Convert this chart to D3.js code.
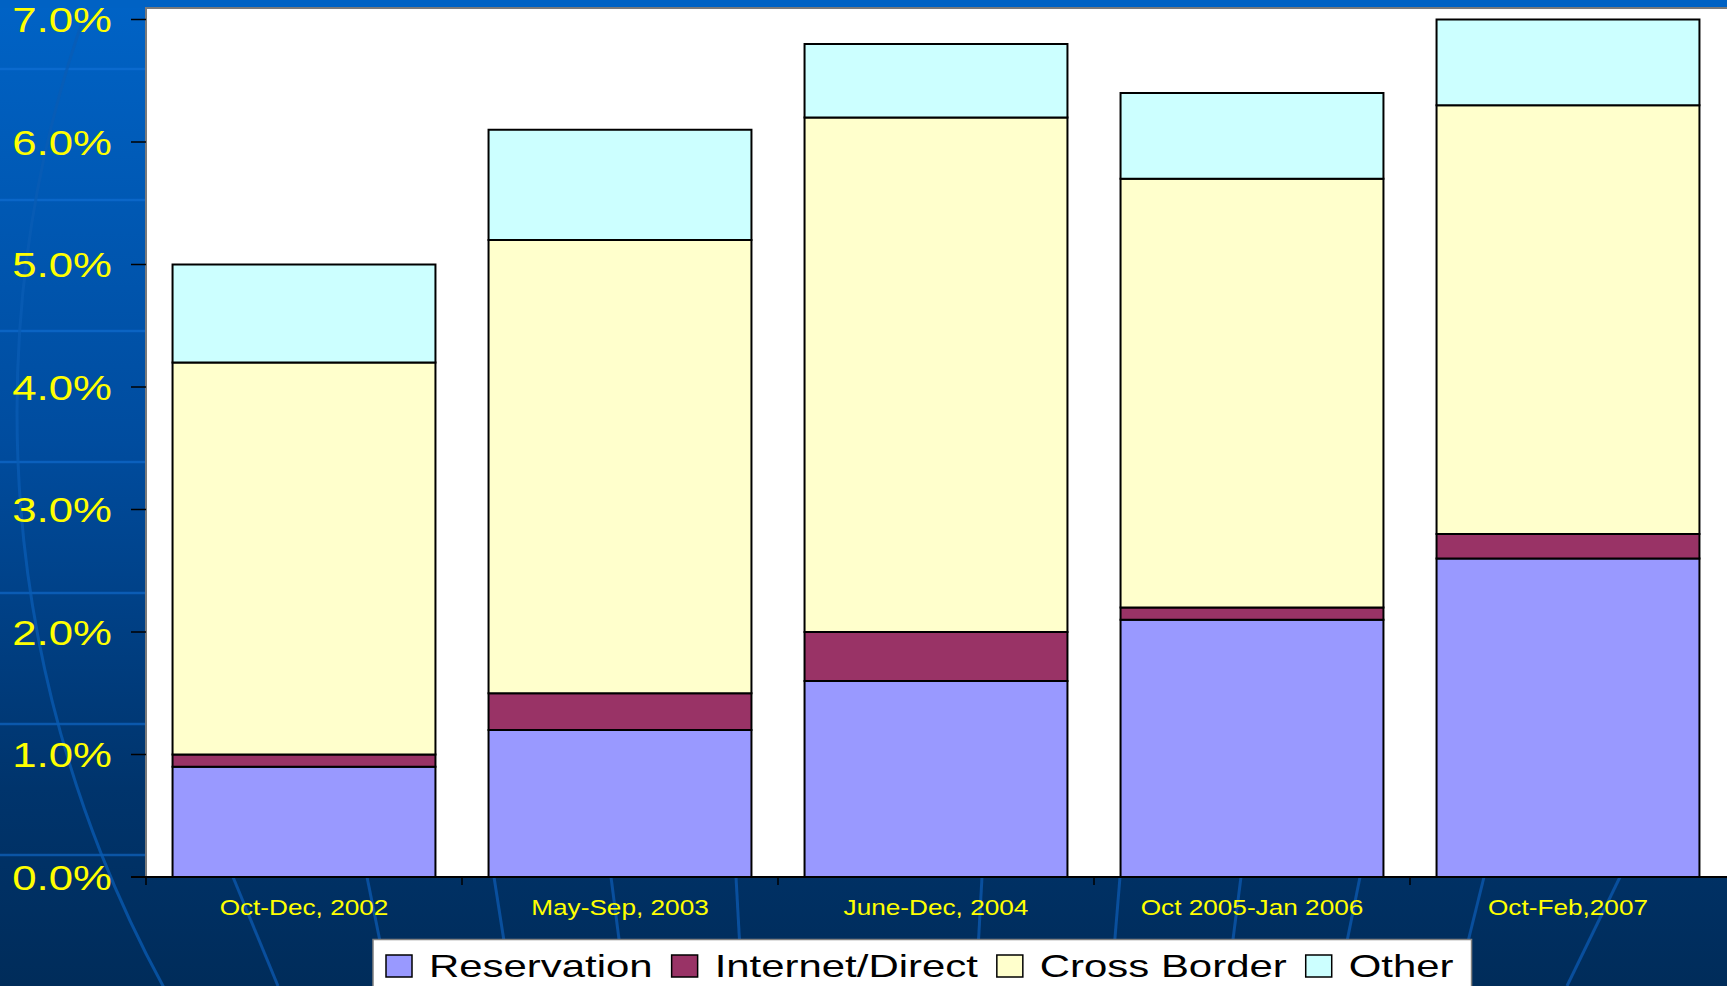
<!DOCTYPE html>
<html>
<head>
<meta charset="utf-8">
<script src="https://cdn.jsdelivr.net/npm/d3@7"></script>
<style>
  html, body { margin: 0; padding: 0; background: #002d5c; overflow: hidden; }
  svg { display: block; }
</style>
</head>
<body>
<div id="chart"></div>
<script>

// -- data (percent of sales)
var categories = ["Oct-Dec, 2002", "May-Sep, 2003", "June-Dec, 2004", "Oct 2005-Jan 2006", "Oct-Feb,2007"];
var seriesNames = ["Reservation", "Internet/Direct", "Cross Border", "Other"];
var reservation    = [0.9, 1.2, 1.6, 2.1, 2.6];
var internetDirect = [0.1, 0.3, 0.4, 0.1, 0.2];
var crossBorder    = [3.2, 3.7, 4.2, 3.5, 3.5];
var other          = [0.8, 0.9, 0.6, 0.7, 0.7];
var yTicks = [0, 1, 2, 3, 4, 5, 6, 7];

var colors = ["#9999ff", "#993366", "#ffffcc", "#ccffff"];

// build rows for d3.stack
var rows = categories.map(function(c, i) {
    return {cat: c, "Reservation": reservation[i], "Internet/Direct": internetDirect[i],
            "Cross Border": crossBorder[i], "Other": other[i]};
});

var W = 1727, H = 986;
var plotLeft = 146, plotRight = 1726, plotTop = 8, axisY = 877;
var stretch = 1.25;   // slide text is widened

var svg = d3.select("#chart").append("svg")
    .attr("width", W).attr("height", H);

// background gradient
var defs = svg.append("defs");
var grad = defs.append("linearGradient").attr("id", "bg")
    .attr("x1", 0).attr("y1", 0).attr("x2", 0).attr("y2", 1);
grad.append("stop").attr("offset", "0%").attr("stop-color", "#0063c6");
grad.append("stop").attr("offset", "45%").attr("stop-color", "#004c9e");
grad.append("stop").attr("offset", "80%").attr("stop-color", "#00346c");
grad.append("stop").attr("offset", "100%").attr("stop-color", "#002c5a");

svg.append("rect").attr("width", W).attr("height", H).attr("fill", "url(#bg)");

// decorative globe lines of the slide template
var deco = svg.append("g").attr("class", "deco");
d3.range(7).forEach(function(i) {
    deco.append("line")
        .attr("x1", 0).attr("x2", W)
        .attr("y1", 69 + i * 131).attr("y2", 69 + i * 131)
        .attr("stroke", "#1473d8").attr("stroke-opacity", 0.55).attr("stroke-width", 2.5);
});
deco.append("circle")
    .attr("cx", 1218).attr("cy", 412).attr("r", 1201)
    .attr("fill", "none").attr("stroke", "#0a5cb4").attr("stroke-opacity", 0.75).attr("stroke-width", 3);
var meridians = [[233, 278], [367, 389], [494, 511], [611, 625], [736, 742],
                 [982, 976], [1120, 1111], [1241, 1227], [1360, 1338], [1484, 1457], [1620, 1567]];
meridians.forEach(function(m) {
    deco.append("line")
        .attr("x1", m[0]).attr("y1", 877).attr("x2", m[1]).attr("y2", 986)
        .attr("stroke", "#0a55a8").attr("stroke-opacity", 0.85).attr("stroke-width", 3);
});

// top strip
svg.append("rect").attr("x", 0).attr("y", 0).attr("width", W).attr("height", plotTop)
    .attr("fill", "#0062c4");

// plot area
svg.append("rect")
    .attr("x", plotLeft).attr("y", plotTop)
    .attr("width", W - plotLeft + 2).attr("height", axisY - plotTop)
    .attr("fill", "#ffffff").attr("stroke", "#7a7a7a").attr("stroke-width", 2);

var x = d3.scaleBand().domain(categories)
    .range([plotLeft, plotRight])
    .paddingInner(0.168).paddingOuter(0.084);
var y = d3.scaleLinear().domain([0, 7]).range([axisY, 19.5]);

var stack = d3.stack().keys(seriesNames);
var layers = stack(rows);

var layer = svg.append("g").selectAll("g")
    .data(layers)
    .enter().append("g")
    .attr("fill", function(d, i) { return colors[i]; });

layer.selectAll("rect")
    .data(function(d) { return d; })
    .enter().append("rect")
    .attr("x", function(d) { return x(d.data.cat); })
    .attr("width", x.bandwidth())
    .attr("y", function(d) { return y(d[1]); })
    .attr("height", function(d) { return y(d[0]) - y(d[1]); })
    .attr("stroke", "#000").attr("stroke-width", 2);

// y axis ticks + labels
var yAxis = svg.append("g");
yAxis.selectAll("line")
    .data(yTicks).enter().append("line")
    .attr("x1", plotLeft - 15).attr("x2", plotLeft)
    .attr("y1", function(d) { return y(d); }).attr("y2", function(d) { return y(d); })
    .attr("stroke", "#000").attr("stroke-width", 1.5);
yAxis.selectAll("text")
    .data(yTicks).enter().append("text")
    .attr("transform", function(d) { return "translate(112," + (y(d) + 12.5) + ") scale(" + stretch + ",1)"; })
    .attr("text-anchor", "end")
    .attr("font-family", "Liberation Sans, Arial, sans-serif")
    .attr("font-size", "35px")
    .attr("fill", "#ffff00")
    .text(function(d) { return d3.format(".1f")(d) + "%"; });

// x axis line, ticks at band edges, labels
var xAxis = svg.append("g");
xAxis.append("line")
    .attr("x1", plotLeft - 15).attr("x2", W)
    .attr("y1", axisY).attr("y2", axisY)
    .attr("stroke", "#000").attr("stroke-width", 2);
var edges = categories.map(function(c) { return x(c) - x.step() * 0.084; });
xAxis.selectAll("line.tick")
    .data(edges).enter().append("line")
    .attr("class", "tick")
    .attr("x1", function(d) { return d; }).attr("x2", function(d) { return d; })
    .attr("y1", axisY).attr("y2", axisY + 8)
    .attr("stroke", "#000").attr("stroke-width", 1.5);
xAxis.selectAll("text")
    .data(categories).enter().append("text")
    .attr("transform", function(d) { return "translate(" + (x(d) + x.bandwidth() / 2) + ",915) scale(1.19,1)"; })
    .attr("text-anchor", "middle")
    .attr("font-family", "Liberation Sans, Arial, sans-serif")
    .attr("font-size", "22px")
    .attr("fill", "#ffff00")
    .text(function(d) { return d; });

// legend
var legend = svg.append("g");
var legendBox = legend.append("rect")
    .attr("x", 373).attr("y", 939.5)
    .attr("width", 1102).attr("height", 60)
    .attr("fill", "#ffffff").attr("stroke", "#808080").attr("stroke-width", 1.5);

var lx = 386;
seriesNames.forEach(function(name, i) {
    legend.append("rect")
        .attr("x", lx).attr("y", 955)
        .attr("width", 26).attr("height", 22)
        .attr("fill", colors[i]).attr("stroke", "#000").attr("stroke-width", 1.5);
    var t = legend.append("text")
        .attr("transform", "translate(" + (lx + 43) + ",977) scale(1.31,1)")
        .attr("font-family", "Liberation Sans, Arial, sans-serif")
        .attr("font-size", "32px")
        .attr("fill", "#000")
        .text(name);
    lx = lx + 43 + t.node().getComputedTextLength() * 1.31 + 19;
});
legendBox.attr("width", lx - 19 + 18 - 373);

</script>
</body>
</html>
